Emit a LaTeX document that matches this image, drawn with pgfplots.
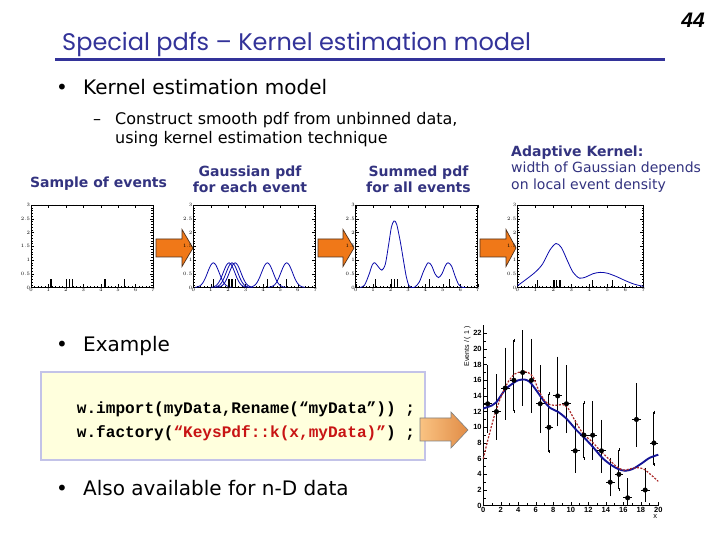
\documentclass[border=0pt]{standalone}
\usepackage{pgfplots}
\pgfplotsset{compat=1.18}
\usepackage{fontspec}
\setmainfont{DejaVu Sans}
\newfontfamily\titlefont{Poppins}
\newfontfamily\numfont{Liberation Sans}
\newfontfamily\codefont{Liberation Mono}
\definecolor{titleblue}{RGB}{51,51,153}
\definecolor{labelblue}{RGB}{51,51,128}
\definecolor{arroworange}{RGB}{240,120,24}
\definecolor{arrowdark}{RGB}{80,50,30}
\definecolor{codered}{RGB}{200,20,20}
\definecolor{codebg}{RGB}{255,255,221}
\definecolor{codeborder}{RGB}{195,195,232}
\definecolor{kblue}{RGB}{20,20,150}
\definecolor{kred}{RGB}{170,40,40}
\definecolor{gblue}{RGB}{10,10,170}
\pgfplotsset{smallplot/.style={scale only axis, anchor=south west, width=122pt, height=82.5pt,
  xmin=0, xmax=7, ymin=0, ymax=3, xtick={0,...,7}, ytick={0,0.5,...,3},
  minor x tick num=4, minor y tick num=4, tick align=inside,
  major tick length=3pt, minor tick length=1.5pt,
  tick style={black, line width=0.3pt},
  ticklabel style={font=\fontsize{3.5}{4}\selectfont, inner sep=0.8pt},
  axis line style={black, line width=0.5pt}}}
\begin{document}
\begin{tikzpicture}[x=1pt,y=1pt]
\path[fill=white] (0,0) rectangle (720,540);
% title
\node[anchor=base west, inner sep=0, text=titleblue, font=\titlefont\fontsize{24}{28}\selectfont] at (62,489) {Special pdfs – Kernel estimation model};
\draw[titleblue, line width=3pt] (55,480) -- (665,480);
\node[anchor=base east, inner sep=0, font=\numfont\bfseries\itshape\fontsize{21}{24}\selectfont] at (705,512) {44};
% bullets
\node[anchor=base, inner sep=0, font=\fontsize{20}{22}\selectfont] at (62,445.5) {•};
\node[anchor=base west, inner sep=0, font=\fontsize{20}{22}\selectfont] at (83,445.5) {Kernel estimation model};
\node[anchor=base west, inner sep=0, font=\fontsize{16}{18}\selectfont] at (93,415.5) {–};
\node[anchor=base west, inner sep=0, font=\fontsize{16}{18}\selectfont] at (115,415.5) {Construct smooth pdf from unbinned data,};
\node[anchor=base west, inner sep=0, font=\fontsize{16}{18}\selectfont] at (115,396.5) {using kernel estimation technique};
% labels
\node[anchor=base, inner sep=0, text=labelblue, font=\bfseries\fontsize{14}{15}\selectfont] at (98.5,352) {Sample of events};
\node[anchor=base, inner sep=0, text=labelblue, font=\bfseries\fontsize{14}{15}\selectfont] at (250,363) {Gaussian pdf};
\node[anchor=base, inner sep=0, text=labelblue, font=\bfseries\fontsize{14}{15}\selectfont] at (250,347) {for each event};
\node[anchor=base, inner sep=0, text=labelblue, font=\bfseries\fontsize{14}{15}\selectfont] at (418.5,363) {Summed pdf};
\node[anchor=base, inner sep=0, text=labelblue, font=\bfseries\fontsize{14}{15}\selectfont] at (418.5,347) {for all events};
\node[anchor=base west, inner sep=0, text=labelblue, font=\bfseries\fontsize{14}{15}\selectfont] at (511,383) {Adaptive Kernel:};
\node[anchor=base west, inner sep=0, text=labelblue, font=\fontsize{14}{15}\selectfont] at (511,367) {width of Gaussian depends};
\node[anchor=base west, inner sep=0, text=labelblue, font=\fontsize{14}{15}\selectfont] at (511,350) {on local event density};
% arrows
\foreach \xa/\xb/\xc in {156/182/193, 318/343/354, 480/506/516}{
  \draw[arrowdark, fill=arroworange, line width=0.7pt, line join=miter]
   (\xa,301) -- (\xb,301) -- (\xb,310.5) -- (\xc,292) -- (\xb,273.5) -- (\xb,283) -- (\xa,283) -- cycle;
}
% example
\node[anchor=base, inner sep=0, font=\fontsize{20}{22}\selectfont] at (62,188.5) {•};
\node[anchor=base west, inner sep=0, font=\fontsize{20}{22}\selectfont] at (83,188.5) {Example};
\draw[codeborder, line width=2.5pt, fill=codebg] (41,168) rectangle (425,80);
\node[anchor=base west, inner sep=0, font=\codefont\bfseries\fontsize{16.1}{18}\selectfont] at (76.7,126) {w.import(myData,Rename(“myData”)) ;};
\node[anchor=base west, inner sep=0, font=\codefont\bfseries\fontsize{16.1}{18}\selectfont] at (76.7,102) {w.factory(\textcolor{codered}{“KeysPdf::k(x,myData)”}) ;};
\node[anchor=base, inner sep=0, font=\fontsize{20}{22}\selectfont] at (62,44.5) {•};
\node[anchor=base west, inner sep=0, font=\fontsize{20}{22}\selectfont] at (83,44.5) {Also available for n-D data};
% big arrow
\shade[left color={rgb,255:red,250;green,195;blue,130}, right color={rgb,255:red,225;green,140;blue,70}]
  (420,122) -- (451,122) -- (451,128) -- (468,110) -- (451,92) -- (451,99) -- (420,99) -- cycle;
\draw[gray, line width=0.6pt, line join=miter]
  (420,122) -- (451,122) -- (451,128) -- (468,110) -- (451,92) -- (451,99) -- (420,99) -- cycle;

% small plot 1
\begin{axis}[smallplot, at={(31pt,252.5pt)}]
\addplot[ycomb, black, line width=1.2pt, mark=none] coordinates {(1.15,0.3) (2.05,0.3) (2.22,0.3) (2.4,0.3) (4.25,0.3) (5.36,0.3)};
\end{axis}
% small plot 2
\begin{axis}[smallplot, at={(193.3pt,252.5pt)}]
\addplot[gblue, line width=0.8pt, smooth] coordinates {(0.10,0.006) (0.25,0.022) (0.40,0.068) (0.55,0.172) (0.70,0.355) (0.85,0.596) (1.00,0.81) (1.15,0.9) (1.30,0.81) (1.45,0.596) (1.60,0.355) (1.75,0.172) (1.90,0.068) (2.05,0.022) (2.20,0.006)};
\addplot[gblue, line width=0.8pt, smooth] coordinates {(1.00,0.006) (1.15,0.022) (1.30,0.068) (1.45,0.172) (1.60,0.355) (1.75,0.596) (1.90,0.81) (2.05,0.9) (2.20,0.81) (2.35,0.596) (2.50,0.355) (2.65,0.172) (2.80,0.068) (2.95,0.022) (3.10,0.006)};
\addplot[gblue, line width=0.8pt, smooth] coordinates {(1.17,0.006) (1.32,0.022) (1.47,0.068) (1.62,0.172) (1.77,0.355) (1.92,0.596) (2.07,0.81) (2.22,0.9) (2.37,0.81) (2.52,0.596) (2.67,0.355) (2.82,0.172) (2.97,0.068) (3.12,0.022) (3.27,0.006)};
\addplot[gblue, line width=0.8pt, smooth] coordinates {(1.35,0.006) (1.50,0.022) (1.65,0.068) (1.80,0.172) (1.95,0.355) (2.10,0.596) (2.25,0.81) (2.40,0.9) (2.55,0.81) (2.70,0.596) (2.85,0.355) (3.00,0.172) (3.15,0.068) (3.30,0.022) (3.45,0.006)};
\addplot[gblue, line width=0.8pt, smooth] coordinates {(3.20,0.006) (3.35,0.022) (3.50,0.068) (3.65,0.172) (3.80,0.355) (3.95,0.596) (4.10,0.81) (4.25,0.9) (4.40,0.81) (4.55,0.596) (4.70,0.355) (4.85,0.172) (5.00,0.068) (5.15,0.022) (5.30,0.006)};
\addplot[gblue, line width=0.8pt, smooth] coordinates {(4.31,0.006) (4.46,0.022) (4.61,0.068) (4.76,0.172) (4.91,0.355) (5.06,0.596) (5.21,0.81) (5.36,0.9) (5.51,0.81) (5.66,0.596) (5.81,0.355) (5.96,0.172) (6.11,0.068) (6.26,0.022) (6.41,0.006)};
\addplot[ycomb, black, line width=1.2pt, mark=none] coordinates {(1.15,0.3) (2.05,0.3) (2.22,0.3) (2.4,0.3) (4.25,0.3) (5.36,0.3)};
\end{axis}
% small plot 3
\begin{axis}[smallplot, at={(355.7pt,252.5pt)}]
\addplot[gblue, line width=0.8pt, smooth, tension=0.5] coordinates {(0.25,0) (0.5,0.08) (0.75,0.45) (0.95,0.82) (1.1,0.9) (1.3,0.75) (1.5,0.63) (1.7,0.85) (1.9,1.6) (2.05,2.2) (2.2,2.42) (2.35,2.3) (2.55,1.7) (2.75,0.95) (2.9,0.4) (3.05,0.07) (3.2,0) (3.4,0.02) (3.65,0.2) (3.9,0.6) (4.15,0.9) (4.35,0.8) (4.55,0.5) (4.75,0.36) (4.95,0.5) (5.15,0.8) (5.3,0.9) (5.5,0.78) (5.7,0.42) (5.9,0.12) (6.1,0.01) (6.3,0)};
\addplot[ycomb, black, line width=1.2pt, mark=none] coordinates {(1.15,0.3) (2.05,0.3) (2.22,0.3) (2.4,0.3) (4.25,0.3) (5.36,0.3)};
\end{axis}
% small plot 4
\begin{axis}[smallplot, width=126pt, at={(517.3pt,252.5pt)}]
\addplot[gblue, line width=0.8pt, smooth] coordinates {(0,0.06) (0.5,0.3) (1.0,0.56) (1.4,0.85) (1.8,1.35) (2.15,1.6) (2.45,1.45) (2.8,0.95) (3.1,0.55) (3.45,0.34) (3.8,0.38) (4.2,0.5) (4.6,0.55) (5.0,0.52) (5.5,0.4) (6.0,0.25) (6.5,0.12) (7,0.04)};
\addplot[ycomb, black, line width=1.2pt, mark=none] coordinates {(1.13,0.28) (2.04,0.28) (2.19,0.28) (2.37,0.28) (4.19,0.28) (5.3,0.28)};
\end{axis}

% big plot
\begin{axis}[at={(483.3pt,34.3pt)}, anchor=south west, scale only axis, width=175pt, height=180.3pt,
  xmin=0, xmax=20, ymin=0, ymax=23,
  axis lines=left, axis line style={-, black, line width=0.6pt},
  xtick={0,2,...,20}, ytick={0,2,...,22}, minor x tick num=1, minor y tick num=1,
  tick align=inside, major tick length=4pt, minor tick length=2.5pt,
  tick style={black, line width=0.5pt},
  /pgf/number format/assume math mode=true,
  ticklabel style={font=\numfont\bfseries\fontsize{7.5}{8}\selectfont},
  xticklabel style={inner sep=1pt},
  yticklabel style={inner sep=1.5pt},
  ylabel={Events / ( 1 )}, ylabel style={at={(ticklabel cs:1)}, anchor=south east, font=\numfont\fontsize{7}{8}\selectfont, inner sep=1pt},
  xlabel={x}, xlabel style={at={(ticklabel cs:1)}, anchor=north east, font=\numfont\fontsize{7.5}{8}\selectfont, inner sep=1pt},
  clip=false]
\pgfplotstableread{
x y ex eyp eym
0.5 13 0.5 4.71 3.55
1.5 12 0.5 4.57 3.41
2.5 15 0.5 4.97 3.83
3.5 16 0.5 5.09 3.95
4.5 17 0.5 5.21 4.08
5.5 16 0.5 5.09 3.95
6.5 13 0.5 4.71 3.55
7.5 10 0.5 4.28 3.10
8.5 14 0.5 4.84 3.69
9.5 13 0.5 4.71 3.55
10.5 7 0.5 3.77 2.58
11.5 9 0.5 4.12 2.94
12.5 9 0.5 4.12 2.94
13.5 7 0.5 3.77 2.58
14.5 3 0.5 2.92 1.63
15.5 4 0.5 3.16 1.91
16.5 1 0.5 2.30 0.83
17.5 11 0.5 4.43 3.26
18.5 2 0.5 2.64 1.29
19.5 8 0.5 3.95 2.76
}\datatable
\addplot[draw=none, mark=none, forget plot,
  error bars/.cd, x dir=both, x explicit, error mark=none, error bar style={line width=0.9pt, black}]
  table[x=x, y=y, x error=ex] {\datatable};
\addplot[draw=none, mark=none, forget plot,
  error bars/.cd, y dir=both, y explicit, error mark=-, error mark options={black, line width=0.6pt, mark size=1.5pt}, error bar style={line width=0.9pt, black}]
  table[x=x, y=y, y error plus=eyp, y error minus=eym] {\datatable};
\addplot[only marks, mark=*, mark size=2.3pt, black] table[x=x, y=y] {\datatable};
\addplot[kblue, line width=1.9pt, smooth] coordinates {(0,12.4) (1,12.8) (1.5,13.2) (2.5,14.8) (3.5,15.7) (4,16.0) (4.7,16.1) (5.3,15.8) (6,14.8) (6.9,13.4) (7.6,12.5) (8.5,12.0) (9.5,11.1) (10.6,9.7) (11.6,8.6) (12.6,7.4) (13.6,6.1) (14.6,5.2) (15.4,4.7) (16.2,4.45) (17.1,4.7) (18.1,5.4) (19,6.1) (20,6.5)};
\addplot[kred, line width=1.2pt, dash pattern=on 2pt off 1.5pt, smooth] coordinates {(0,6.0) (0.5,8.3) (1.3,11.6) (2.1,14.1) (2.9,15.9) (3.6,16.8) (4.4,17.1) (5.1,17.0) (5.7,16.4) (6.3,14.8) (7.0,13.4) (7.6,12.9) (8.4,12.8) (9.1,12.9) (9.7,12.4) (10.5,10.8) (11.4,9.2) (12.4,8.2) (13.3,7.1) (14.3,6.0) (15.2,5.0) (16.0,4.55) (16.8,4.7) (17.5,4.85) (18.3,4.7) (19.1,4.0) (20,3.1)};
\end{axis}
\end{tikzpicture}
\end{document}
